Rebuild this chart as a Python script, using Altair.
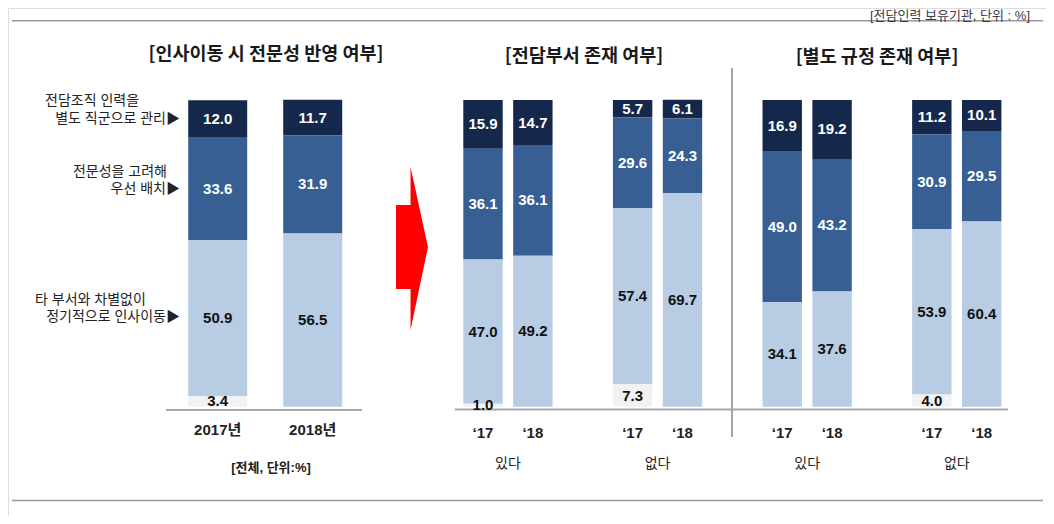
import altair as alt
import pandas as pd

# ---------------- data ----------------
categories = ["전담조직 인력을 별도 직군으로 관리", "전문성을 고려해 우선 배치",
              "타 부서와 차별없이 정기적으로 인사이동", "기타"]
cat_lines = [["전담조직 인력을", "별도 직군으로 관리▶"],
             ["전문성을 고려해", "우선 배치▶"],
             ["타 부서와 차별없이", "정기적으로 인사이동▶"]]
bar_colors = ["#15284b", "#375f93", "#b8cce4", "#f2f2f2"]
label_colors = ["#ffffff", "#ffffff", "#111111", "#111111"]

p1_title = "[인사이동 시 전문성 반영 여부]"
p1_note = "[전체, 단위:%]"
p1_years = ["2017년", "2018년"]
p1_dark = [12.0, 11.7]
p1_mid = [33.6, 31.9]
p1_light = [50.9, 56.5]
p1_gray = [3.4, 0.0]

groups = ["있다", "없다"]
years_short = ["‘17", "‘18"]

p2_title = "[전담부서 존재 여부]"
# order: 있다'17, 있다'18, 없다'17, 없다'18
p2_dark = [15.9, 14.7, 5.7, 6.1]
p2_mid = [36.1, 36.1, 29.6, 24.3]
p2_light = [47.0, 49.2, 57.4, 69.7]
p2_gray = [1.0, 0.0, 7.3, 0.0]

p3_title = "[별도 규정 존재 여부]"
p3_dark = [16.9, 19.2, 11.2, 10.1]
p3_mid = [49.0, 43.2, 30.9, 29.5]
p3_light = [34.1, 37.6, 53.9, 60.4]
p3_gray = [0.0, 0.0, 4.0, 0.0]

unit_note = "[전담인력 보유기관, 단위 : %]"

# ---------------- tables ----------------
rows1 = []
for ci, series in enumerate([p1_dark, p1_mid, p1_light, p1_gray]):
    for yi, yr in enumerate(p1_years):
        rows1.append({"year": yr, "cat": categories[ci], "ord": 3 - ci, "value": series[yi]})
df1 = pd.DataFrame(rows1)

slot_domain = []
rows23 = []
for pi, (pname, sers) in enumerate([("P2", [p2_dark, p2_mid, p2_light, p2_gray]),
                                    ("P3", [p3_dark, p3_mid, p3_light, p3_gray])]):
    for gi, g in enumerate(groups):
        for yi, yr in enumerate(years_short):
            slot = f"{pname} {g} {yr}"
            slot_domain.append(slot)
            k = gi * 2 + yi
            for ci, series in enumerate(sers):
                rows23.append({"slot": slot, "group": g, "year": yr, "first": yi == 0,
                               "cat": categories[ci], "ord": 3 - ci, "value": series[k]})
        if not (pi == 1 and gi == 1):
            slot_domain.append(f"gap {pi}{gi}")
df23 = pd.DataFrame(rows23)
slots_df = df23.drop_duplicates("slot")[["slot", "group", "year", "first"]]
years1_df = pd.DataFrame({"year": p1_years})

# ---------------- scales ----------------
KR = "'Noto Sans CJK KR'"
NUM = "'Liberation Sans', 'Noto Sans CJK KR'"

y_scale = alt.Scale(domain=[0, 100], range=[398.7, 92])
x1_scale = alt.Scale(domain=p1_years, range=[162.2, 352.2], paddingInner=0.379, paddingOuter=0.1895)
step23 = 49.87
x23_scale = alt.Scale(domain=slot_domain, range=[475 - step23 / 2, 973.7 + step23 / 2],
                      paddingInner=0.21, paddingOuter=0.105)
bar_color = alt.Color("cat:N", scale=alt.Scale(domain=categories, range=bar_colors), legend=None)
lab_color = alt.Color("cat:N", scale=alt.Scale(domain=categories, range=label_colors), legend=None)


def stacked(df, xfield, xscale):
    base = alt.Chart(df).transform_filter("datum.value > 0")
    bars = base.mark_bar().encode(
        x=alt.X(f"{xfield}:N", scale=xscale, axis=None),
        y=alt.Y("value:Q", stack="zero", scale=y_scale, axis=None),
        color=bar_color,
        order=alt.Order("ord:Q", sort="ascending"),
    )
    labels = base.transform_stack(
        stack="value", as_=["v0", "v1"], groupby=[xfield],
        sort=[alt.SortField("ord", order="ascending")],
    ).transform_calculate(mid="(datum.v0 + datum.v1) / 2").mark_text(
        font=NUM, fontSize=15, fontWeight="bold"
    ).encode(
        x=alt.X(f"{xfield}:N", scale=xscale, axis=None),
        y=alt.Y("mid:Q", scale=y_scale, axis=None),
        text=alt.Text("value:Q", format=".1f"),
        color=lab_color,
    )
    return bars, labels


def txt(s, x, y, size=14, weight="normal", align="center", font=NUM, color="#222222", baseline="middle"):
    return alt.Chart(pd.DataFrame({"t": [s]})).mark_text(
        font=font, fontSize=size, fontWeight=weight, align=align, baseline=baseline, color=color
    ).encode(x=alt.value(x), y=alt.value(y), text="t:N")


def hrule(x1, x2, y, color="#a6a6a6", w=2):
    return alt.Chart(pd.DataFrame({"a": [0]})).mark_rule(color=color, strokeWidth=w).encode(
        x=alt.value(x1), x2=alt.value(x2), y=alt.value(y))


def vrule(x, y1, y2, color="#a6a6a6", w=2):
    return alt.Chart(pd.DataFrame({"a": [0]})).mark_rule(color=color, strokeWidth=w).encode(
        x=alt.value(x), y=alt.value(y1), y2=alt.value(y2))


bars1, labels1 = stacked(df1, "year", x1_scale)
bars23, labels23 = stacked(df23, "slot", x23_scale)

xlab1 = alt.Chart(years1_df).mark_text(font=NUM, fontSize=15, fontWeight="bold", color="#222222").encode(
    x=alt.X("year:N", scale=x1_scale, axis=None), y=alt.value(422), text="year:N")
xlab23 = alt.Chart(slots_df).mark_text(font=NUM, fontSize=15, fontWeight="bold", color="#222222").encode(
    x=alt.X("slot:N", scale=x23_scale, axis=None), y=alt.value(424.5), text="year:N")
glab23 = alt.Chart(slots_df).transform_filter("datum.first").mark_text(
    font=NUM, fontSize=14, color="#222222", dx=step23 / 2).encode(
    x=alt.X("slot:N", scale=x23_scale, axis=None), y=alt.value(455.5), text="group:N")

arrow_path = ("M -0.196 -0.534 L -0.018 -0.534 L -0.018 -1 L 0.196 -0.018 "
              "L -0.018 1 L -0.018 0.497 L -0.196 0.497 Z")
arrow = alt.Chart(pd.DataFrame({"a": [0]})).mark_point(
    shape=arrow_path, filled=True, size=163 ** 2, color="#ff0000", opacity=1, strokeWidth=0
).encode(x=alt.value(404), y=alt.value(240.5))

layers = [
    hrule(4, 1035, 12.7, color="#999999", w=1.5),
    hrule(4, 1035, 492.5, color="#999999", w=1.5),
    txt(unit_note, 1022, 1.5, size=13, align="right", color="#3a3a4a", baseline="top"),
    txt(p1_title, 258, 46, size=18.5, weight="bold", font=KR, color="#1a1a1a"),
    txt(p2_title, 576, 48, size=18.5, weight="bold", font=KR, color="#1a1a1a"),
    txt(p3_title, 869, 49, size=18.5, weight="bold", font=KR, color="#1a1a1a"),
    txt(cat_lines[0][0], 37, 93, align="left"),
    txt(cat_lines[0][1], 172, 110.5, align="right"),
    txt(cat_lines[1][0], 159, 163.5, align="right"),
    txt(cat_lines[1][1], 172, 180.5, align="right"),
    txt(cat_lines[2][0], 27, 291.7, align="left"),
    txt(cat_lines[2][1], 172, 308.7, align="right"),
    txt(p1_note, 263, 460, size=13, weight="bold", color="#222222"),
    vrule(724, 60, 429),
    bars1, bars23,
    hrule(158, 354, 402),
    hrule(447, 1000, 401.5),
    labels1, labels23,
    xlab1, xlab23, glab23,
    arrow,
]

chart = alt.layer(*layers).resolve_scale(x="independent", color="independent").properties(
    width=1038, height=508, autosize=alt.AutoSizeParams(type="none"), padding=0
).configure_view(stroke=None).configure(background="white")

chart.save("out.html", embed_options={"renderer": "svg", "actions": False})
